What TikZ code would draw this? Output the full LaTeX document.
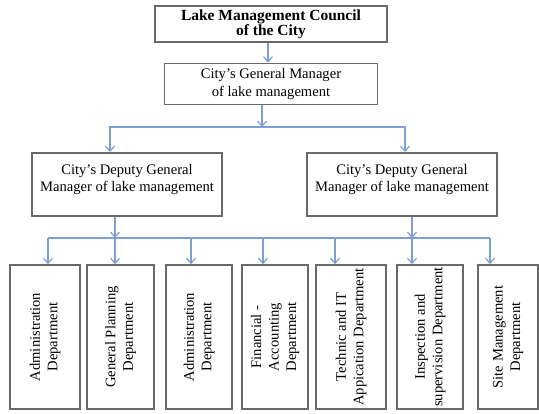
\documentclass[tikz,border=0pt]{standalone}
\usepackage{fontspec}
\setmainfont{Liberation Serif}
\usetikzlibrary{arrows.meta}
\definecolor{linkblue}{RGB}{125,158,208}
\definecolor{boxgray}{RGB}{105,105,105}

\begin{document}
\begin{tikzpicture}[x=1pt,y=-1pt,>={Straight Barb[length=5pt,width=9pt]},
    font=\fontsize{14.6}{17.5}\selectfont]
\tikzset{
  unit/.style={draw=boxgray, line width=1.7pt, align=center, inner sep=3pt},
  dept/.style={unit, rotate=90, minimum width=144pt, inner xsep=0.5pt},
  link/.style={draw=linkblue, line width=1.2pt},
}
\useasboundingbox (0,0) rectangle (539,413);

\node[unit, minimum width=232pt, minimum height=36pt,
      font=\fontsize{15.5}{15}\selectfont\bfseries] (council) at (271,24)
      {Lake Management Council\\of the City};
\node[unit, minimum width=213pt, minimum height=41pt] (gm) at (271,84)
      {City's General Manager\\of lake management};

\node[unit, anchor=north, minimum width=190pt, text height=35pt, text depth=20pt,
      inner ysep=4pt] (depL) at (127,152)
      {City's Deputy General\\Manager of lake management};
\node[unit, anchor=north, minimum width=190pt, text height=35pt, text depth=20pt,
      inner ysep=4pt] (depR) at (402,152)
      {City's Deputy General\\Manager of lake management};

\node[dept, minimum height=70pt] (b1) at (45,337) {Administration\\Department};
\node[dept, minimum height=67pt] (b2) at (120.5,337) {General Planning\\Department};
\node[dept, minimum height=66pt] (b3) at (199,337) {Administration\\Department};
\node[dept, minimum height=66pt] (b4) at (275,337) {Financial -\\Accounting\\Department};
\node[dept, minimum height=70pt] (b5) at (351,337) {Technic and IT\\Appication Department};
\node[dept, minimum height=66pt] (b6) at (430,337) {Inspection and\\supervision Department};
\node[dept, minimum height=60pt] (b7) at (508,337) {Site Management\\Department};

% bus points
\coordinate (gmbus) at (262,127);
\coordinate (upL) at (110,127);
\coordinate (upR) at (405,127);
\coordinate (j1) at (48,238);
\coordinate (j2) at (115,238);
\coordinate (j3) at (191,238);
\coordinate (j4) at (263,238);
\coordinate (j5) at (335,238);
\coordinate (j6) at (412,238);
\coordinate (j7) at (490,238);

\draw[link,->] ([xshift=-3pt]council.south) -- ([xshift=-3pt]gm.north);
\draw[link,->] ([xshift=-9pt]gm.south) -- (gmbus);
\draw[link,<->] (upL |- depL.north) -- (upL) -- (upR) -- (upR |- depR.north);

\draw[link,->] (depL.south -| j2) -- (j2);
\draw[link,->] (depR.south -| j6) -- (j6);
\draw[link] (j1) -- (j7);
\foreach \i in {1,...,7}
  \draw[link,->] (j\i) -- (j\i |- b\i.east);
\end{tikzpicture}
\end{document}
